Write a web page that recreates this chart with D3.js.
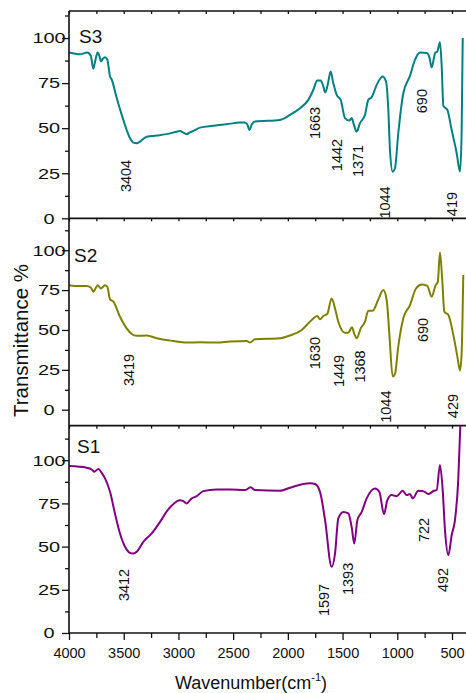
<!DOCTYPE html>
<html>
<head>
<meta charset="utf-8">
<script src="https://d3js.org/d3.v7.min.js"></script>
<style>
  body { margin: 0; background: #fff; }
  text { font-family: "Liberation Sans", Arial, sans-serif; fill: #111; }
</style>
</head>
<body>
<svg id="chart" width="466" height="693"></svg>
<script>
// ---- data ----
const s3Wn = [4000,3900,3833,3800,3778,3758,3738,3722,3707,3690,3671,3650,3625,3610,3564,3518,3473,3442,3412,3381,3351,3290,3199,3108,3020,2986,2955,2925,2895,2864,2803,2681,2559,2437,2392,2370,2352,2330,2300,2072,1980,1889,1813,1767,1731,1700,1680,1658,1640,1630,1609,1585,1554,1517,1478,1439,1417,1396,1371,1341,1295,1265,1234,1188,1134,1103,1082,1067,1042,1021,991,945,884,838,792,731,705,686,665,655,634,610,594,579,543,503,457,427,412,402];
const s3T  = [92,91,92,90,83,88,92,90,87,88.5,89.4,88,78.7,77,66.7,57.4,49,44.4,42,41.7,42.6,45.3,45.9,46.7,48,48.5,47.5,46.7,47.7,48.5,50.3,51.3,52.2,53.1,53.2,52,49,52,53.7,54.6,57.4,61.1,65.7,71.3,76.4,76.4,74,69.8,73,75.9,81.4,75,68.5,65.7,55.6,54.2,55.6,51.8,48.1,52.8,57.4,65.7,67.2,74,78.7,75.9,60.2,38,25.9,27.8,47.2,69.4,79,88,92,91.7,89,83.7,89,91.7,92.6,97.6,84.2,62.4,60.2,49,36.1,25.9,47.2,100];

const s2Wn = [4000,3900,3838,3800,3778,3758,3738,3710,3690,3671,3650,3625,3595,3534,3473,3427,3381,3290,3199,3047,2925,2803,2650,2529,2376,2346,2300,2072,1980,1873,1782,1731,1706,1676,1640,1600,1569,1539,1478,1448,1414,1395,1371,1334,1295,1265,1225,1173,1128,1097,1073,1042,1021,991,945,884,829,777,726,686,649,630,610,589,570,533,488,451,427,412,397];
const s2T  = [78.1,77.5,77.5,76.5,74,76,78.1,76,77,78.1,77.1,69.2,67.7,58.3,51,47.5,46.3,46.5,44.8,43.1,42.1,42.3,42.1,42.7,43.1,42.1,44.2,44.8,46.5,50,56.3,58.8,56.7,58.8,60,69.8,63.5,55.2,48.3,48.3,51.7,48,44.8,51,55.2,62.1,62.1,69.2,75,68.8,47.9,20.8,22.5,39.6,57.3,65.6,76,78.5,77.7,70.8,78.1,80,98.5,81.3,61.5,59.4,46.9,33.3,24.6,35.4,84.4];

const s1Wn = [4000,3838,3790,3769,3732,3700,3671,3625,3580,3534,3488,3443,3412,3381,3321,3244,3168,3093,2986,2955,2925,2879,2833,2773,2650,2529,2392,2340,2300,2072,1980,1798,1752,1706,1660,1600,1569,1539,1493,1448,1417,1393,1365,1325,1280,1204,1164,1121,1091,1051,1005,950,914,884,859,808,762,717,665,640,610,585,564,533,503,473,443,421];
const s1T  = [96.6,95.7,94.5,93.3,94.9,92.5,89.5,81.7,69.2,57.6,49.9,46.4,46,47,52.8,57.6,64.3,71.5,76.9,76.3,75,77.9,79.2,82.1,83.1,83.1,82.7,84.3,82.7,82.3,84.1,86.6,86.2,81.7,65.3,38.3,46,66.3,70.1,69.2,61.4,51.8,65.3,70.1,77.9,83.7,81.7,68.8,76.9,79.8,79.2,82.3,79.8,80.4,77.9,82.3,82.1,80.4,82.3,82.7,97.2,82.7,59.5,45,56.6,65.3,88.5,125];

// peak labels: text, wavenumber and transmittance where the label sits
const s3Peaks = [["3404",3481,23.5],["1663",1752,52.9],["1442",1551,35.1],["1371",1359,31.8],["1044",1112,8.8],["690",774,65],["419",500,7.9]];
const s2Peaks = [["3419",3454,24.9],["1630",1752,35.5],["1449",1535,24.3],["1368",1345,27.1],["1044",1103,1.9],["690",765,50],["429",495,2.3]];
const s1Peaks = [["3412",3499,27.8],["1597",1672,19.1],["1393",1448,31.3],["722",758,59.6],["492",587,30.7]];

const xMajor = [4000,3500,3000,2500,2000,1500,1000,500];
const xMinor = [3750,3250,2750,2250,1750,1250,750];
const yMajor = [0,25,50,75,100];
const yMinor = [12.5,37.5,62.5,87.5,112.5];

// ---- layout ----
const svg = d3.select("#chart");
const plotL = 69, plotR = 466, plotT = 11, panelH = 207.33;

const x = d3.scaleLinear().domain([4000, 370]).range([plotL, plotL + 3630 * 383 / 3500]);

const panels = [
    {name:"S3", wn:s3Wn, t:s3T, peaks:s3Peaks, dom:[0,115],   color:"#008080", lx:79, ly:32},
    {name:"S2", wn:s2Wn, t:s2T, peaks:s2Peaks, dom:[-10,120], color:"#808000", lx:74, ly:44},
    {name:"S1", wn:s1Wn, t:s1T, peaks:s1Peaks, dom:[0,120],   color:"#800080", lx:77, ly:27}
];

panels.forEach((p, i) => {
    const y0 = plotT + i * panelH, y1 = y0 + panelH;
    const y = d3.scaleLinear().domain(p.dom).range([y1, y0]);
    const g = svg.append("g");

    g.append("clipPath").attr("id", "clip" + i)
        .append("rect").attr("x", plotL).attr("y", y0).attr("width", plotR - plotL).attr("height", panelH);

    const pts = p.wn.map((w, k) => [w, p.t[k]]);
    g.append("path")
        .datum(pts)
        .attr("clip-path", "url(#clip" + i + ")")
        .attr("fill", "none")
        .attr("stroke", p.color)
        .attr("stroke-width", 2)
        .attr("stroke-linejoin", "round")
        .attr("d", d3.line().x(d => x(d[0])).y(d => y(d[1])).curve(d3.curveMonotoneX));

    // y axis ticks
    const ya = g.append("g").attr("transform", `translate(${plotL},0)`)
        .call(d3.axisLeft(y).tickValues(yMajor).tickSize(7).tickSizeOuter(0));
    ya.select(".domain").remove();
    ya.selectAll("line").attr("stroke", "#111").attr("stroke-width", 1.3);
    ya.selectAll("text")
        .attr("font-size", 15)
        .attr("text-anchor", "middle")
        .attr("x", -20 / 1.33)
        .attr("transform", "scale(1.33,1)")
        .attr("font-family", "Liberation Sans, Arial, sans-serif");
    const ym = g.append("g").attr("transform", `translate(${plotL},0)`)
        .call(d3.axisLeft(y).tickValues(yMinor.filter(v => v > p.dom[0] && v < p.dom[1])).tickSize(4).tickFormat(""));
    ym.select(".domain").remove();
    ym.selectAll("line").attr("stroke", "#111").attr("stroke-width", 1.3);

    // bottom axis of the panel
    const last = i === panels.length - 1;
    const xa = g.append("g").attr("transform", `translate(0,${y1})`)
        .call(d3.axisBottom(x).tickValues(xMajor).tickSize(last ? 7 : 3).tickSizeOuter(0)
            .tickFormat(last ? d3.format("d") : ""));
    xa.select(".domain").remove();
    xa.selectAll("line").attr("stroke", "#111").attr("stroke-width", 1.3);
    xa.selectAll("text").attr("font-size", 14.5).attr("font-family", "Liberation Sans, Arial, sans-serif").attr("dy", "1.05em");
    const xm = g.append("g").attr("transform", `translate(0,${y1})`)
        .call(d3.axisBottom(x).tickValues(xMinor).tickSize(last ? 5 : 3).tickFormat(""));
    xm.select(".domain").remove();
    xm.selectAll("line").attr("stroke", "#111").attr("stroke-width", 1.3);

    g.append("line").attr("x1", plotL).attr("x2", plotR).attr("y1", y1).attr("y2", y1)
        .attr("stroke", "#111").attr("stroke-width", 1.6);

    // peak labels
    g.selectAll(".peak").data(p.peaks).join("text")
        .attr("class", "peak")
        .attr("transform", d => `translate(${x(d[1])},${y(d[2])}) rotate(-90)`)
        .attr("text-anchor", "middle")
        .attr("dy", "0.36em")
        .attr("font-size", 14.5)
        .text(d => d[0]);

    g.append("text").attr("x", p.lx).attr("y", y0 + p.ly).attr("font-size", 19).text(p.name);
});

// top border with small ticks
svg.append("line").attr("x1", plotL).attr("x2", plotR).attr("y1", plotT).attr("y2", plotT)
    .attr("stroke", "#111").attr("stroke-width", 1.6);
const ta = svg.append("g").attr("transform", `translate(0,${plotT})`)
    .call(d3.axisBottom(x).tickValues(xMajor.concat(xMinor)).tickSize(3).tickFormat(""));
ta.select(".domain").remove();
ta.selectAll("line").attr("stroke", "#111").attr("stroke-width", 1.3);

// left axis line
svg.append("line").attr("x1", plotL).attr("x2", plotL).attr("y1", plotT).attr("y2", plotT + 3 * panelH)
    .attr("stroke", "#111").attr("stroke-width", 1.6);

// axis titles
const xt = svg.append("text").attr("x", 251).attr("y", 689).attr("text-anchor", "middle").attr("font-size", 18);
xt.append("tspan").text("Wavenumber(cm");
xt.append("tspan").attr("dy", -8).attr("font-size", 11).text("-1");
xt.append("tspan").attr("dy", 8).text(")");

svg.append("text")
    .attr("transform", "translate(20.5,340.5) rotate(-90)")
    .attr("text-anchor", "middle")
    .attr("dy", "0.36em")
    .attr("font-size", 20.5)
    .text("Transmittance %");
</script>
</body>
</html>
